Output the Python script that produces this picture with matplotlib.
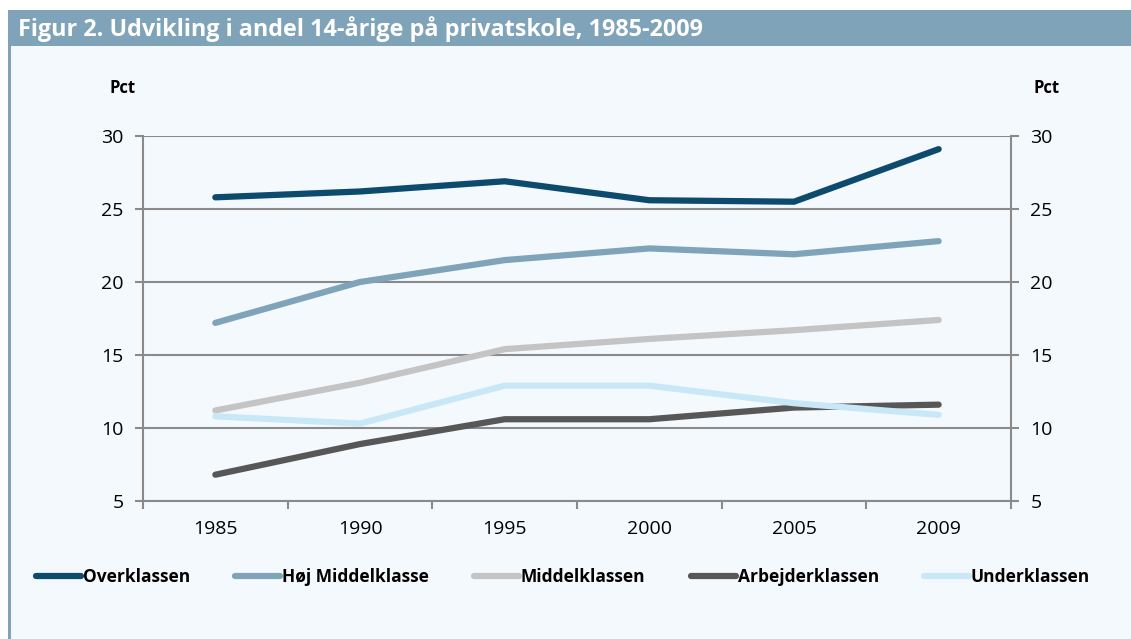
import numpy as np
import matplotlib.pyplot as plt
from matplotlib.patches import Rectangle
from matplotlib.lines import Line2D

years = ['1985', '1990', '1995', '2000', '2005', '2009']
overklassen = [25.8, 26.2, 26.9, 25.6, 25.5, 29.1]
hoej_middel = [17.2, 20.0, 21.5, 22.3, 21.9, 22.8]
middelklassen = [11.2, 13.1, 15.4, 16.1, 16.7, 17.4]
arbejderklassen = [6.8, 8.9, 10.6, 10.6, 11.4, 11.6]
underklassen = [10.8, 10.3, 12.9, 12.9, 11.7, 10.9]

series = [
    ('Overklassen', overklassen, '#0c4a6e'),
    ('Høj Middelklasse', hoej_middel, '#7fa3b8'),
    ('Middelklassen', middelklassen, '#c4c4c4'),
    ('Arbejderklassen', arbejderklassen, '#575757'),
    ('Underklassen', underklassen, '#c8e8f8'),
]

bg = '#f4f9fd'
plt.rcParams['font.family'] = ['Open Sans', 'DejaVu Sans']

fig = plt.figure(figsize=(11.31, 6.39), dpi=100)
fig.patch.set_facecolor('white')
W, H = 1131, 639

# background panel, title bar, left border
fig.patches.append(Rectangle((8 / W, 0), 1 - 8 / W, 1 - 10 / H, transform=fig.transFigure,
                             facecolor=bg, edgecolor='none', zorder=-3))
fig.patches.append(Rectangle((8 / W, 1 - 46 / H), 1 - 8 / W, 36 / H, transform=fig.transFigure,
                             facecolor='#7fa3b8', edgecolor='none', zorder=-2))
fig.patches.append(Rectangle((8 / W, 0), 3 / W, 1 - 10 / H, transform=fig.transFigure,
                             facecolor='#7fa3b8', edgecolor='none', zorder=-2))
fig.text(18 / W, 1 - 29 / H, 'Figur 2. Udvikling i andel 14-årige på privatskole, 1985-2009',
         color='white', fontsize=16.8, fontweight='bold', va='center', ha='left')

ax = fig.add_axes([143 / W, 1 - 501 / H, (1011 - 143) / W, (501 - 136) / H])
ax.set_facecolor(bg)
x = np.arange(len(years))
for name, vals, col in series:
    ax.plot(x, vals, color=col, lw=4.5, solid_capstyle='round', label=name)

ax.set_xlim(-0.5, len(years) - 0.5)
ax.set_ylim(5, 30)
ax.set_yticks(range(5, 31, 5))
ax.yaxis.grid(True, color='#8a8a8a', lw=1.5)
ax.set_axisbelow(True)
ax.set_xticks(x)
ax.set_xticklabels(years)
ax.set_xticks(np.arange(-0.5, len(years), 1), minor=True)
ax.tick_params(axis='x', which='major', length=0, pad=14, labelsize=14)
ax.tick_params(axis='x', which='minor', length=6, width=1.5, color='#8a8a8a', direction='out')
ax.tick_params(axis='y', length=6, width=1.5, color='#8a8a8a', labelsize=14, pad=8,
               left=True, right=True, labelleft=True, labelright=True)
ax.spines['top'].set_visible(False)
for s in ['left', 'right', 'bottom']:
    ax.spines[s].set_color('#8a8a8a')
    ax.spines[s].set_linewidth(1.5)

fig.text(123 / W, 1 - 88 / H, 'Pct', fontsize=12, fontweight='bold', ha='center', va='center')
fig.text(1047 / W, 1 - 88 / H, 'Pct', fontsize=12, fontweight='bold', ha='center', va='center')

handles = [Line2D([0], [0], color=c, lw=4.5, solid_capstyle='round') for _, _, c in series]
fig.legend(handles, [n for n, _, _ in series], loc='center', bbox_to_anchor=(563 / W, 1 - 577 / H),
           ncol=5, frameon=False, prop={'weight': 'bold', 'size': 12.5},
           handlelength=2.6, handletextpad=0.1, columnspacing=2.6)

fig.savefig('out.png', dpi=100, facecolor='white')
